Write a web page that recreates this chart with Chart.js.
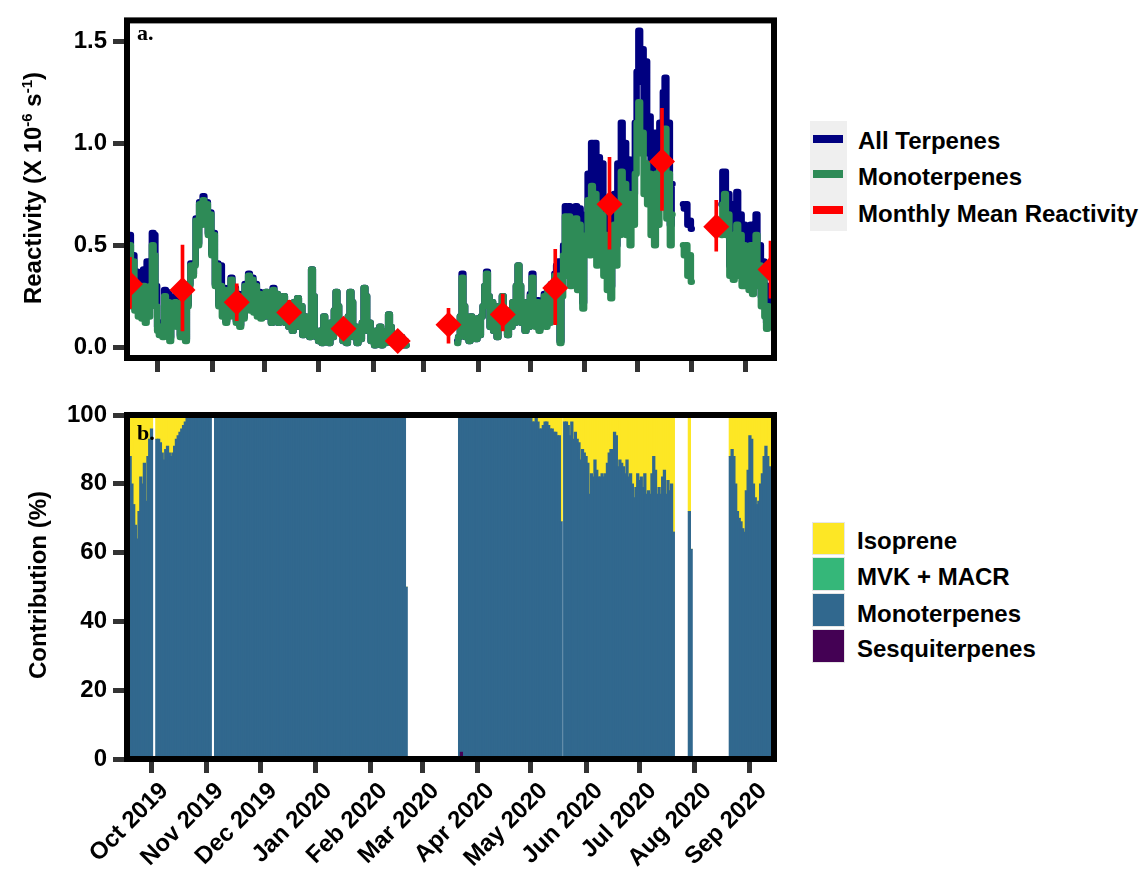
<!DOCTYPE html>
<html><head><meta charset="utf-8">
<script src="https://cdn.jsdelivr.net/npm/chart.js@4.4.1/dist/chart.umd.min.js"></script>
<style>
html,body{margin:0;padding:0;background:#fff;}
#wrap{position:relative;width:1146px;height:869px;overflow:hidden;font-family:"Liberation Sans",Arial,sans-serif;font-weight:bold;color:#000;}
canvas{position:absolute;left:0;}
.t{position:absolute;white-space:nowrap;font-size:24px;line-height:28px;}
.ytitle{position:absolute;white-space:nowrap;font-size:24px;line-height:28px;transform:translate(-50%,-50%) rotate(-90deg);}
.ytitle sup{font-size:15px;vertical-align:0.6em;line-height:0;}
.panel{position:absolute;font-family:"Liberation Serif","Times New Roman",serif;font-size:22px;line-height:22px;font-weight:bold;}
.key{position:absolute;box-sizing:border-box;}
</style></head>
<body><div id="wrap">
<canvas id="topChart" width="800" height="385" style="top:0"></canvas>
<canvas id="bottomChart" width="800" height="479" style="top:390px"></canvas>

<div class="panel" style="left:137px;top:22px">a.</div>
<div class="panel" style="left:137px;top:422px">b.</div>

<div class="ytitle" style="left:33px;top:188px">Reactivity (X 10<sup>-6</sup> s<sup>-1</sup>)</div>
<div class="ytitle" style="left:38px;top:585px">Contribution (%)</div>

<div class="key" style="left:810px;top:121px;width:37px;height:110px;background:#efefef"></div>
<div class="key" style="left:813px;top:135px;width:30px;height:8px;background:#000080"></div>
<div class="key" style="left:813px;top:170px;width:30px;height:8px;background:#2e8b57"></div>
<div class="key" style="left:813px;top:206px;width:30px;height:8px;background:#ff0000"></div>
<div class="t" style="left:858px;top:127px">All Terpenes</div>
<div class="t" style="left:858px;top:163px">Monoterpenes</div>
<div class="t" style="left:858px;top:200px">Monthly Mean Reactivity</div>

<div class="key" style="left:812px;top:522px;width:33px;height:33px;background:#fde725;border:1px solid #e6e6e6"></div>
<div class="key" style="left:812px;top:557px;width:33px;height:34px;background:#35b779;border:1px solid #e6e6e6"></div>
<div class="key" style="left:812px;top:593px;width:33px;height:34px;background:#31688e;border:1px solid #e6e6e6"></div>
<div class="key" style="left:812px;top:629px;width:33px;height:34px;background:#440154;border:1px solid #e6e6e6"></div>
<div class="t" style="left:857px;top:527px">Isoprene</div>
<div class="t" style="left:857px;top:563px">MVK + MACR</div>
<div class="t" style="left:857px;top:600px">Monoterpenes</div>
<div class="t" style="left:857px;top:635px">Sesquiterpenes</div>
</div>
<script>
// ---------- axis data ----------
// days counted from 1 Oct 2019
const monthStartDays = [0,31,61,92,123,152,183,213,244,274,305,336];
const monthLabels = ['Oct 2019','Nov 2019','Dec 2019','Jan 2020','Feb 2020','Mar 2020','Apr 2020','May 2020','Jun 2020','Jul 2020','Aug 2020','Sep 2020'];
const reactivityTicks = [0, 0.5, 1.0, 1.5];
const reactivityTickLabels = ['0.0','0.5','1.0','1.5'];
const contributionTicks = [0,20,40,60,80,100];
const contributionTickLabels = ['0','20','40','60','80','100'];

// ---------- panel a: daily reactivity (x10^-6 s^-1), first value = day -16 (15 Sep 2019) ----------
const reactivityStartDay = -16;
const monoterpenes = [
// Sep 2019
0.50,0.20,0.42,0.18,0.30,0.15,0.28,0.14,0.30,0.12,0.25,0.15,0.30,0.50,0.45,0.20,
// Oct
0.08,0.06,0.10,0.05,0.25,0.18,0.22,0.03,0.20,0.15,0.22,0.10,0.20,0.05,0.22,0.10,0.03,0.20,0.30,0.40,0.35,
0.40,0.62,0.50,0.70,0.60,0.72,0.62,0.70,0.55,0.65,
// Nov
0.45,0.55,0.30,0.40,0.20,0.30,0.15,0.28,0.12,0.25,0.15,0.33,0.18,0.28,0.12,0.25,0.10,0.22,0.14,0.30,
0.20,0.35,0.18,0.33,0.17,0.30,0.15,0.26,0.14,0.25,
// Dec
0.15,0.27,0.16,0.24,0.12,0.28,0.15,0.26,0.12,0.22,0.14,0.25,0.12,0.20,0.10,0.18,0.08,0.22,0.12,0.24,
0.10,0.20,0.06,0.15,0.08,0.12,0.05,0.38,0.25,0.08,0.05,
// Jan
0.03,0.08,0.02,0.15,0.04,0.10,0.02,0.12,0.05,0.18,0.27,0.20,0.08,0.12,0.03,0.10,0.02,0.15,0.27,0.22,
0.05,0.10,0.02,0.08,0.04,0.12,0.29,0.25,0.08,0.12,0.03,
// Feb
0.05,0.01,0.08,0.02,0.10,0.01,0.06,0.02,0.08,0.16,0.10,0.02,0.05,0.01,0.04,0.01,0.05,0.01,0.03,0.01,
null,null,null,null,null,null,null,null,null,
// Mar
null,null,null,null,null,null,null,null,null,null,null,null,null,null,null,null,null,null,null,
0.02,0.05,0.15,0.34,0.20,0.05,0.12,0.03,0.15,0.06,0.12,0.04,
// Apr
0.14,0.06,0.15,0.20,0.30,0.36,0.25,0.10,0.22,0.08,0.18,0.05,0.20,0.10,0.25,0.12,0.18,0.06,0.15,0.10,
0.22,0.12,0.30,0.40,0.30,0.12,0.22,0.08,0.20,0.10,
// May
0.25,0.34,0.20,0.10,0.22,0.08,0.20,0.12,0.25,0.10,0.28,0.12,0.30,0.15,0.35,0.33,0.35,0.02,0.25,0.45,
0.64,0.35,0.64,0.30,0.62,0.33,0.63,0.28,0.60,0.40,0.19,
// Jun
0.45,0.55,0.72,0.45,0.79,0.60,0.75,0.40,0.70,0.50,0.65,0.35,0.55,0.28,0.50,0.24,0.45,0.60,0.40,0.70,
0.55,0.86,0.60,0.80,0.55,0.75,0.50,0.72,0.60,0.85,
// Jul
1.10,1.20,0.95,1.05,0.75,0.90,0.70,0.85,0.55,0.80,0.50,0.85,0.60,0.90,0.70,0.95,1.07,0.63,0.85,0.50,
0.65,null,null,null,null,null,0.50,0.45,0.50,0.35,0.45,
// Aug
0.32,null,null,null,null,null,null,null,null,null,null,null,null,null,null,null,null,
0.55,0.70,0.75,0.55,0.65,0.35,0.55,0.33,0.50,0.60,0.35,0.55,0.30,0.50,
// Sep 2020
0.30,0.45,0.28,0.50,0.26,0.45,0.55,0.30,0.40,0.20,0.35,0.15,0.09,0.20
];
const allTerpenes = [
// Sep 2019
0.55,0.30,0.45,0.35,0.37,0.30,0.36,0.25,0.38,0.30,0.42,0.30,0.40,0.56,0.55,0.30,
// Oct
0.10,0.08,0.12,0.08,0.28,0.27,0.26,0.05,0.22,0.22,0.25,0.22,0.22,0.06,0.23,0.12,0.04,0.21,0.31,0.41,0.36,
0.41,0.63,0.51,0.71,0.61,0.74,0.63,0.71,0.56,0.66,
// Nov
0.46,0.56,0.31,0.41,0.21,0.40,0.25,0.29,0.13,0.26,0.16,0.34,0.19,0.29,0.13,0.26,0.11,0.23,0.15,0.31,
0.21,0.36,0.19,0.34,0.18,0.31,0.16,0.27,0.15,0.26,
// Dec
0.15,0.27,0.16,0.24,0.12,0.29,0.15,0.26,0.12,0.22,0.14,0.25,0.12,0.20,0.10,0.18,0.08,0.22,0.12,0.24,
0.10,0.20,0.06,0.15,0.08,0.12,0.05,0.38,0.25,0.08,0.05,
// Jan
0.03,0.08,0.02,0.15,0.04,0.10,0.02,0.12,0.05,0.18,0.27,0.20,0.08,0.12,0.03,0.10,0.02,0.15,0.27,0.22,
0.05,0.10,0.02,0.08,0.04,0.12,0.29,0.25,0.08,0.12,0.03,
// Feb
0.05,0.01,0.08,0.02,0.10,0.01,0.06,0.02,0.08,0.16,0.10,0.02,0.05,0.01,0.04,0.01,0.05,0.01,0.03,0.01,
null,null,null,null,null,null,null,null,null,
// Mar
null,null,null,null,null,null,null,null,null,null,null,null,null,null,null,null,null,null,null,
0.03,0.05,0.15,0.36,0.20,0.05,0.12,0.03,0.15,0.06,0.12,0.04,
// Apr
0.14,0.06,0.15,0.20,0.30,0.37,0.25,0.10,0.22,0.08,0.18,0.05,0.20,0.10,0.25,0.12,0.18,0.06,0.15,0.10,
0.22,0.12,0.30,0.40,0.30,0.12,0.22,0.08,0.20,0.10,
// May
0.26,0.36,0.21,0.11,0.23,0.09,0.21,0.13,0.26,0.11,0.29,0.13,0.31,0.16,0.36,0.40,0.42,0.03,0.30,0.50,
0.69,0.40,0.69,0.35,0.68,0.38,0.69,0.32,0.68,0.45,0.22,
// Jun
0.55,0.65,0.85,0.55,1.00,0.75,1.00,0.50,0.93,0.65,0.90,0.45,0.70,0.35,0.60,0.30,0.55,0.75,0.50,0.90,
0.70,1.10,0.75,1.00,0.70,0.92,0.65,0.90,0.75,1.10,
// Jul
1.35,1.55,1.30,1.46,1.00,1.40,0.95,1.13,0.75,1.05,0.65,1.05,0.80,1.10,0.90,1.25,1.32,0.85,1.10,0.60,
0.80,null,null,null,null,null,0.70,0.68,0.70,0.60,0.62,
// Aug
0.58,null,null,null,null,null,null,null,null,null,null,null,null,null,null,null,null,
0.70,0.86,0.86,0.65,0.75,0.40,0.70,0.38,0.60,0.76,0.45,0.65,0.35,0.60,
// Sep 2020
0.35,0.58,0.32,0.60,0.30,0.58,0.65,0.35,0.50,0.25,0.42,0.20,0.12,0.30
];
// monthly mean reactivity (mid-month) with spread
const monthMeanDays = [-16,14,45,75,106,137,166,197,227,258,288,319,350];
const monthMean = [0.31,0.28,0.22,0.17,0.09,0.03,0.11,0.16,0.29,0.70,0.91,0.59,0.38];
const monthLow  = [0.19,0.08,0.13,0.12,0.05,0.01,0.02,0.08,0.11,0.48,0.67,0.47,0.24];
const monthHigh = [0.44,0.50,0.31,0.23,0.13,0.06,0.19,0.26,0.48,0.93,1.17,0.72,0.52];

// ---------- panel b: daily contribution (%), first value = day -12 ----------
const contributionStartDay = -12;
const monoterpenePct = [
88,80,74,68,64,72,82,80,86,75,88,93,96,
null,null,
93,93,92,89,87,90,91,89,88,89,91,93,94,95,96,97,98,
99,99,99,99,99,99,99,99,
100,100,100,100,100,100,
null,null,
100,100,100,100,100,100,100,100,100,100,
100,100,100,100,100,100,100,100,100,100,
100,100,100,100,100,100,100,100,100,100,
100,100,100,100,100,100,100,100,100,100,
100,100,100,100,100,100,100,100,100,100,
100,100,100,100,100,100,100,100,100,100,
100,100,100,100,100,100,100,100,100,100,
100,100,100,100,100,100,100,100,100,100,
100,100,100,100,100,100,100,100,100,100,
100,100,100,100,100,100,100,100,100,100,
100,100,100,100,100,100,100,
50,
null,null,null,null,null,null,null,null,null,null,
null,null,null,null,null,null,null,null,null,null,
null,null,null,null,null,null,null,null,null,
100,98,100,100,100,100,100,100,100,100,
100,100,100,100,100,100,100,100,100,100,
100,100,100,100,100,100,100,100,100,100,
100,100,100,100,100,100,100,100,100,100,
100,
98,98,99,98,96,96,97,98,98,97,96,96,95,95,94,94,69,
null,
98,98,97,94,98,93,95,93,92,87,90,89,88,86,77,83,82,87,84,82,
82,83,82,83,86,89,90,90,95,94,85,87,86,85,83,87,82,83,80,76,
79,83,81,82,79,83,77,78,77,83,88,84,77,79,77,82,84,77,81,78,
80,66,
null,null,null,null,null,null,null,null,
72,61,
null,null,null,null,null,null,null,null,null,null,
null,null,null,null,null,null,null,null,null,null,null,
88,90,88,80,72,70,69,67,66,78,84,94,93,80,76,74,75,80,83,88,91,88,85
];
const isoprenePct = [
12,20,26,32,36,28,18,20,14,25,12,7,4,
null,null,
7,7,8,11,13,10,9,11,12,11,9,7,6,5,4,3,2,
1,1,1,1,1,1,1,1,
0,0,0,0,0,0,
null,null,
0,0,0,0,0,0,0,0,0,0, 0,0,0,0,0,0,0,0,0,0,
0,0,0,0,0,0,0,0,0,0, 0,0,0,0,0,0,0,0,0,0,
0,0,0,0,0,0,0,0,0,0, 0,0,0,0,0,0,0,0,0,0,
0,0,0,0,0,0,0,0,0,0, 0,0,0,0,0,0,0,0,0,0,
0,0,0,0,0,0,0,0,0,0, 0,0,0,0,0,0,0,0,0,0,
0,0,0,0,0,0,0,
0,
null,null,null,null,null,null,null,null,null,null,
null,null,null,null,null,null,null,null,null,null,
null,null,null,null,null,null,null,null,null,
0,0,0,0,0,0,0,0,0,0, 0,0,0,0,0,0,0,0,0,0,
0,0,0,0,0,0,0,0,0,0, 0,0,0,0,0,0,0,0,0,0,
0,
2,2,1,2,4,4,3,2,2,3,4,4,5,5,6,6,31,
null,
2,2,3,6,2,7,5,7,8,13,10,11,12,14,23,17,18,13,16,18,
18,17,18,17,14,11,10,10,5,6,15,13,14,15,17,13,18,17,20,24,
21,17,19,18,21,17,23,22,23,17,12,16,23,21,23,18,16,23,19,22,
20,34,
null,null,null,null,null,null,null,null,
28,0,
null,null,null,null,null,null,null,null,null,null,
null,null,null,null,null,null,null,null,null,null,null,
12,10,12,20,28,30,31,33,34,22,16,6,7,20,24,26,25,20,17,12,9,12,15
];
const sesquiterpeneDays = [174];
const sesquiterpenePct = [2];
const mvkMacrDays = [];
const mvkMacrPct = [];

if (monoterpenes.length !== 366 || allTerpenes.length !== 366) throw new Error('top lengths ' + monoterpenes.length + ' ' + allTerpenes.length);
if (monoterpenePct.length !== 360 || isoprenePct.length !== 360) throw new Error('bottom lengths ' + monoterpenePct.length + ' ' + isoprenePct.length);

// ---------- helpers ----------
const FONT = "'Liberation Sans', Arial, sans-serif";
const series = (arr, start) => arr.map((v, i) => ({x: start + i, y: v}));
const pairs = (days, vals) => days.map((d, i) => ({x: d, y: vals[i]}));
const framePlugin = {
  id: 'frame',
  afterDatasetsDraw(chart) {
    const {ctx, chartArea: {left, top, right, bottom}} = chart;
    ctx.save();
    ctx.lineWidth = 6;
    ctx.strokeStyle = '#000';
    ctx.strokeRect(left, top, right - left, bottom - top);
    ctx.restore();
  }
};
const tickGrid = {drawOnChartArea: false, drawTicks: true, tickLength: 14, tickWidth: 5, tickColor: '#333', offset: false};

// ---------- panel a ----------
new Chart(document.getElementById('topChart'), {
  type: 'line',
  data: {
    datasets: [
      {label: 'Monthly Mean Reactivity', data: pairs(monthMeanDays, monthMean), showLine: false,
       pointStyle: 'rectRot', pointRadius: 13, pointHoverRadius: 13, pointBackgroundColor: '#ff0000',
       pointBorderColor: '#ff0000', pointBorderWidth: 0, order: 0, clip: 0},
      {type: 'bar', label: 'spread', data: monthMeanDays.map((d, i) => ({x: d, y: [monthLow[i], monthHigh[i]]})),
       backgroundColor: '#ff0000', borderWidth: 0, barThickness: 3, order: 1, clip: 0},
      {label: 'Monoterpenes', data: series(monoterpenes, reactivityStartDay), borderColor: '#2e8b57',
       borderWidth: 6.5, pointRadius: 0, stepped: 'middle', spanGaps: false, borderCapStyle: 'round',
       borderJoinStyle: 'round', order: 2, clip: 0},
      {label: 'All Terpenes', data: series(allTerpenes, reactivityStartDay), borderColor: '#000080',
       borderWidth: 6.5, pointRadius: 0, stepped: 'middle', spanGaps: false, borderCapStyle: 'round',
       borderJoinStyle: 'round', order: 3, clip: 0}
    ]
  },
  options: {
    responsive: false, animation: false, devicePixelRatio: 1, events: [],
    layout: {padding: {left: 0, right: 26, top: 15.5, bottom: 0}},
    plugins: {legend: {display: false}, tooltip: {enabled: false}},
    scales: {
      x: {type: 'linear', min: -17.714, max: 352.0, offset: false,
          afterBuildTicks: s => { s.ticks = monthStartDays.map(v => ({value: v})); },
          afterFit: s => { s.height = 27; },
          grid: tickGrid, border: {display: false}, ticks: {display: false}},
      y: {type: 'linear', min: -0.053, max: 1.601,
          afterBuildTicks: s => { s.ticks = reactivityTicks.map(v => ({value: v})); },
          afterFit: s => { s.width = 127; },
          grid: tickGrid, border: {display: false},
          ticks: {color: '#000', padding: 6, font: {family: FONT, size: 24, weight: 'bold'},
                  callback: (v, i) => reactivityTickLabels[i]}}
    }
  },
  plugins: [framePlugin]
});

// ---------- panel b ----------
new Chart(document.getElementById('bottomChart'), {
  type: 'bar',
  data: {
    datasets: [
      {label: 'Sesquiterpenes', data: pairs(sesquiterpeneDays, sesquiterpenePct), backgroundColor: '#440154'},
      {label: 'Monoterpenes', data: series(monoterpenePct, contributionStartDay), backgroundColor: '#31688e'},
      {label: 'MVK + MACR', data: pairs(mvkMacrDays, mvkMacrPct), backgroundColor: '#35b779'},
      {label: 'Isoprene', data: series(isoprenePct, contributionStartDay), backgroundColor: '#fde725'}
    ].map(d => Object.assign(d, {barThickness: 2.6, borderWidth: 0, clip: 0}))
  },
  options: {
    responsive: false, animation: false, devicePixelRatio: 1, events: [],
    layout: {padding: {left: 0, right: 26, top: 25, bottom: 0}},
    plugins: {legend: {display: false}, tooltip: {enabled: false}},
    scales: {
      x: {type: 'linear', stacked: true, min: -13.756, max: 349.52, offset: false,
          afterBuildTicks: s => { s.ticks = monthStartDays.map(v => ({value: v})); },
          afterFit: s => { s.height = 110; },
          grid: tickGrid, border: {display: false},
          ticks: {color: '#000', padding: 4, labelOffset: 13, minRotation: 45, maxRotation: 45, autoSkip: false,
                  font: {family: FONT, size: 24, weight: 'bold'},
                  callback: (v, i) => monthLabels[i]}},
      y: {type: 'linear', stacked: true, min: 0, max: 100,
          afterBuildTicks: s => { s.ticks = contributionTicks.map(v => ({value: v})); },
          afterFit: s => { s.width = 127; },
          grid: tickGrid, border: {display: false},
          ticks: {color: '#000', padding: 6, font: {family: FONT, size: 24, weight: 'bold'},
                  callback: (v, i) => contributionTickLabels[i]}}
    }
  },
  plugins: [framePlugin]
});
</script>
</body></html>
